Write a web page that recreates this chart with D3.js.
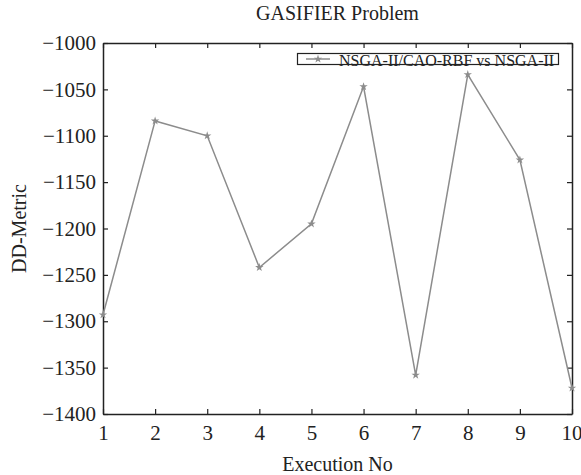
<!DOCTYPE html>
<html>
<head>
<meta charset="utf-8">
<script src="https://cdn.jsdelivr.net/npm/d3@7"></script>
<style>
  html, body { margin: 0; padding: 0; background: #fff; }
  svg text { font-family: "Liberation Serif", "Times New Roman", serif; fill: #222; }
</style>
</head>
<body>
<svg id="chart" width="581" height="475"></svg>
<script>
// Execution runs and DD-metric values
const runs = [1, 2, 3, 4, 5, 6, 7, 8, 9, 10];
const ddMetric = [-1293, -1084, -1100, -1242, -1195, -1047, -1358, -1034, -1126, -1372];
const yTicks = [-1400, -1350, -1300, -1250, -1200, -1150, -1100, -1050, -1000];
const xTicks = [1, 2, 3, 4, 5, 6, 7, 8, 9, 10];
const seriesName = "NSGA-II/CAO-RBF vs NSGA-II";

const svg = d3.select("#chart");
const plotLeft = 103, plotRight = 572, plotTop = 43, plotBottom = 414;
const serif = "'Liberation Serif', 'Times New Roman', serif";

const x = d3.scaleLinear().domain([1, 10]).range([plotLeft, plotRight]);
const y = d3.scaleLinear().domain([-1400, -1000]).range([plotBottom, plotTop]);

const fmt = d => d < 0 ? "\u2212" + Math.abs(d) : String(d);
const axisColor = "#222";
const tickLen = 5;

// Axes with inward ticks on all four sides
const gB = svg.append("g").attr("transform", `translate(0,${plotBottom})`)
  .call(d3.axisBottom(x).tickValues(xTicks).tickSizeInner(-tickLen).tickSizeOuter(0).tickPadding(11).tickFormat(fmt));
const gT = svg.append("g").attr("transform", `translate(0,${plotTop})`)
  .call(d3.axisTop(x).tickValues(xTicks).tickSizeInner(-tickLen).tickSizeOuter(0).tickFormat(""));
const gL = svg.append("g").attr("transform", `translate(${plotLeft},0)`)
  .call(d3.axisLeft(y).tickValues(yTicks).tickSizeInner(-tickLen).tickSizeOuter(0).tickPadding(7).tickFormat(fmt));
const gR = svg.append("g").attr("transform", `translate(${plotRight},0)`)
  .call(d3.axisRight(y).tickValues(yTicks).tickSizeInner(-tickLen).tickSizeOuter(0).tickFormat(""));

[gB, gT, gL, gR].forEach(g => {
  g.attr("font-family", null).attr("font-size", null);
  g.selectAll(".domain").attr("stroke", axisColor).attr("stroke-width", 1.5);
  g.selectAll(".tick line").attr("stroke", axisColor).attr("stroke-width", 1.2);
  g.selectAll("text").style("font-family", serif).style("font-size", "21px").attr("fill", axisColor);
});
// keep the last x label inside the canvas edge
gB.selectAll(".tick text").filter(d => d === 10).attr("text-anchor", "end").attr("dx", "10");

// Series line and markers
const lineColor = "#8c8c8c";
const line = d3.line().x((d, i) => x(runs[i])).y(d => y(d));
svg.append("path").datum(ddMetric)
  .attr("d", line).attr("fill", "none").attr("stroke", lineColor).attr("stroke-width", 1.5);

const star = d3.symbol().type(d3.symbolStar).size(22);
svg.append("g").selectAll("path").data(ddMetric).join("path")
  .attr("d", star)
  .attr("transform", (d, i) => `translate(${x(runs[i])},${y(d)})`)
  .attr("fill", lineColor);

// Legend
const lg = svg.append("g");
lg.append("rect").attr("x", 297.5).attr("y", 53.5).attr("width", 261).attr("height", 11)
  .attr("fill", "#fff").attr("stroke", axisColor).attr("stroke-width", 1.2);
lg.append("line").attr("x1", 306).attr("x2", 330).attr("y1", 59).attr("y2", 59)
  .attr("stroke", lineColor).attr("stroke-width", 1.5);
lg.append("path").attr("d", star).attr("transform", "translate(318,59)").attr("fill", lineColor);
lg.append("text").attr("x", 339).attr("y", 65.5).style("font-family", serif).style("font-size", "16px").text(seriesName);

// Titles
svg.append("text").attr("x", (plotLeft + plotRight) / 2).attr("y", 20).attr("text-anchor", "middle")
  .style("font-family", serif).style("font-size", "20px").text("GASIFIER Problem");
svg.append("text").attr("x", (plotLeft + plotRight) / 2).attr("y", 471).attr("text-anchor", "middle")
  .style("font-family", serif).style("font-size", "20px").text("Execution No");
svg.append("text").attr("transform", `translate(26,${(plotTop + plotBottom) / 2}) rotate(-90)`)
  .attr("text-anchor", "middle").style("font-family", serif).style("font-size", "20px").text("DD-Metric");
</script>
</body>
</html>
